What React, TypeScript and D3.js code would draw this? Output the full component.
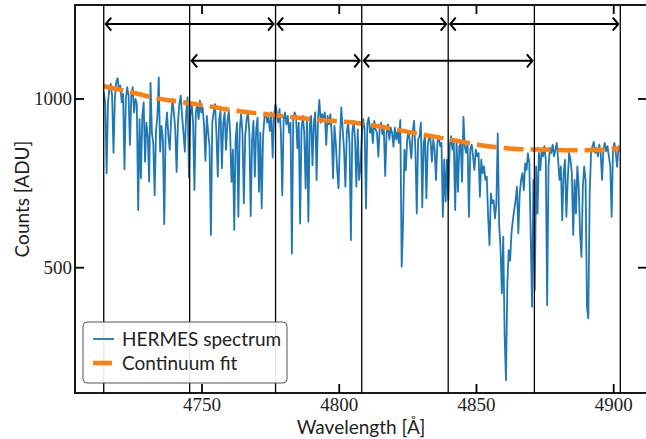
import React from "react";
import * as d3 from "d3";

const W = 646;
const H = 439;
const plot = { left: 75, right: 647, top: 5, bottom: 393 };

// Spectrum sampling grid (Å) and counts
const wavelengthStart = 4714.25;
const wavelengthStep = 0.5;
const counts = [
  1020, 985, 780, 990, 1030, 1045, 1010, 841, 1000, 1050,
  1062, 1025, 1040, 990, 1015, 792, 1000, 1035, 1010, 864,
  1010, 1035, 960, 1000, 985, 671, 940, 765, 950, 990,
  814, 930, 890, 755, 1048, 900, 870, 715, 905, 950,
  1064, 844, 920, 880, 629, 910, 960, 890, 849, 940,
  1000, 960, 910, 784, 930, 985, 1010, 950, 900, 844,
  960, 1005, 768, 950, 990, 930, 730, 960, 985, 940,
  995, 960, 975, 920, 817, 950, 900, 860, 597, 930,
  960, 985, 900, 770, 940, 965, 795, 930, 960, 849,
  930, 965, 900, 755, 850, 612, 880, 930, 651, 910,
  955, 900, 691, 890, 940, 960, 900, 653, 880, 935,
  770, 910, 945, 725, 900, 676, 890, 945, 960, 930,
  945, 905, 960, 827, 950, 985, 960, 930, 970, 900,
  715, 940, 960, 925, 950, 900, 930, 542, 940, 960,
  950, 854, 930, 631, 910, 950, 900, 735, 940, 636,
  920, 950, 804, 930, 960, 760, 940, 997, 930, 955,
  940, 960, 864, 950, 925, 955, 900, 765, 920, 870,
  789, 735, 880, 975, 910, 850, 740, 900, 930, 870,
  582, 900, 935, 880, 740, 910, 760, 800, 900, 940,
  910, 676, 930, 945, 900, 920, 869, 935, 910, 900,
  829, 915, 930, 895, 910, 772, 900, 925, 880, 915,
  900, 859, 915, 880, 905, 870, 938, 503, 626, 850,
  789, 880, 905, 870, 824, 900, 935, 850, 661, 880,
  890, 930, 679, 870, 890, 706, 860, 890, 880, 814,
  880, 850, 760, 870, 890, 860, 870, 651, 820, 696,
  820, 700, 860, 890, 850, 870, 671, 880, 725, 860,
  870, 755, 947, 860, 840, 870, 651, 850, 865, 830,
  789, 850, 830, 840, 710, 820, 780, 800, 760, 770,
  651, 567, 720, 691, 700, 646, 690, 898, 631, 560,
  424, 592, 300, 167, 453, 552, 520, 602, 640, 671,
  700, 740, 602, 720, 760, 780, 730, 809, 790, 839,
  810, 602, 384, 760, 434, 800, 661, 840, 789, 850,
  830, 860, 820, 389, 799, 855, 840, 865, 830, 850,
  870, 820, 760, 800, 641, 780, 820, 651, 760, 840,
  820, 780, 597, 760, 661, 800, 740, 602, 532, 740,
  800, 760, 384, 350, 720, 840, 860, 873, 840, 855,
  830, 865, 840, 760, 850, 870, 845, 860, 830, 800,
  651, 850, 870, 840, 799, 860, 845,
];

// Continuum fit
const fitWavelengths = [
  4714.2, 4724.2, 4734.2, 4744.2, 4754.2, 4764.2, 4774.2, 4784.2, 4794.2, 4804.2,
  4814.2, 4824.2, 4834.2, 4844.2, 4854.2, 4864.2, 4874.2, 4884.2, 4894.2, 4902.3,
];
const fitCounts = [
  1038, 1020, 1001, 989, 976, 963, 954, 945, 937, 931,
  919, 904, 889, 874, 860, 852, 850, 848, 849, 854,
];

// Segment boundaries (vertical lines) and arrows
const boundaries = [4714.2, 4745.5, 4776.8, 4808.2, 4839.7, 4871.1, 4902.4];
const arrowLevels = [1222, 1113];
const arrowRows = [
  [[0, 2], [2, 4], [4, 6]],
  [[1, 3], [3, 5]],
];

const xTicks = [4750, 4800, 4850, 4900];
const yTicks = [500, 1000];
const xDomain = [4703.73, 4912.13];
const yDomain = [128.6, 1278.6];
const legendLabels = ["HERMES spectrum", "Continuum fit"];
const xLabel = "Wavelength [Å]";
const yLabel = "Counts [ADU]";

const BLUE = "#1f77b4";
const ORANGE = "#ff7f0e";
const SERIF = "'Liberation Serif', 'DejaVu Serif', serif";
const SANS = "Lato, 'Open Sans', sans-serif";

export default function App() {
  const x = d3.scaleLinear().domain(xDomain).range([plot.left, plot.right]);
  const y = d3.scaleLinear().domain(yDomain).range([plot.bottom, plot.top]);

  const spec: [number, number][] = counts.map((c, i) => [wavelengthStart + i * wavelengthStep, c]);
  const fit: [number, number][] = fitCounts.map((c, i) => [fitWavelengths[i], c]);

  const specPath = d3.line<[number, number]>().x((d) => x(d[0])).y((d) => y(d[1]))(spec) || "";
  const fitPath =
    d3.line<[number, number]>().x((d) => x(d[0])).y((d) => y(d[1])).curve(d3.curveMonotoneX)(fit) || "";

  const tickLen = 9;
  const shrink = 2;
  const headL = 5.5;
  const headW = 6.5;

  const arrows: JSX.Element[] = [];
  arrowRows.forEach((row, r) => {
    const yy = y(arrowLevels[r]);
    row.forEach(([a, b], k) => {
      const x1 = x(boundaries[a]) + shrink;
      const x2 = x(boundaries[b]) - shrink;
      const d =
        `M${x1},${yy}L${x2},${yy}` +
        `M${x1 + headL},${yy - headW}L${x1},${yy}L${x1 + headL},${yy + headW}` +
        `M${x2 - headL},${yy - headW}L${x2},${yy}L${x2 - headL},${yy + headW}`;
      arrows.push(
        <path key={`a${r}-${k}`} d={d} fill="none" stroke="#000" strokeWidth={2} strokeLinejoin="miter" />
      );
    });
  });

  const lx = 83, ly = 322, lw = 204, lh = 61;

  return (
    <div style={{ position: "fixed", left: 0, top: 0, width: W, height: H, background: "#fff" }}>
      <svg width={W} height={H} viewBox={`0 0 ${W} ${H}`} style={{ display: "block" }}>
        <defs>
          <clipPath id="plotclip">
            <rect x={plot.left} y={plot.top} width={plot.right - plot.left} height={plot.bottom - plot.top} />
          </clipPath>
        </defs>
        <rect x={0} y={0} width={W} height={H} fill="#fff" />
        <g clipPath="url(#plotclip)">
          <path d={specPath} fill="none" stroke={BLUE} strokeWidth={1.8} strokeLinejoin="round" />
          <path
            d={fitPath}
            fill="none"
            stroke={ORANGE}
            strokeWidth={4.5}
            strokeDasharray="20 7"
            strokeLinecap="butt"
          />
          {boundaries.map((b, i) => (
            <line key={`v${i}`} x1={x(b)} x2={x(b)} y1={plot.top} y2={plot.bottom} stroke="#000" strokeWidth={1.3} />
          ))}
          {arrows}
        </g>
        {/* spines */}
        <rect
          x={plot.left}
          y={plot.top}
          width={plot.right - plot.left}
          height={plot.bottom - plot.top}
          fill="none"
          stroke="#000"
          strokeWidth={1.8}
        />
        {/* x ticks */}
        {xTicks.map((t) => (
          <g key={`xt${t}`}>
            <line x1={x(t)} x2={x(t)} y1={plot.bottom} y2={plot.bottom - tickLen} stroke="#000" strokeWidth={1.8} />
            <line x1={x(t)} x2={x(t)} y1={plot.top} y2={plot.top + tickLen} stroke="#000" strokeWidth={1.8} />
            <text x={x(t)} y={411} textAnchor="middle" fontFamily={SERIF} fontSize={19} fill="#222">
              {t}
            </text>
          </g>
        ))}
        {/* y ticks */}
        {yTicks.map((t) => (
          <g key={`yt${t}`}>
            <line x1={plot.left} x2={plot.left + tickLen} y1={y(t)} y2={y(t)} stroke="#000" strokeWidth={1.8} />
            <line x1={plot.right} x2={plot.right - tickLen} y1={y(t)} y2={y(t)} stroke="#000" strokeWidth={1.8} />
            <text x={72} y={y(t) + 6.5} textAnchor="end" fontFamily={SERIF} fontSize={19} fill="#222">
              {t}
            </text>
          </g>
        ))}
        {/* axis labels */}
        <text x={(plot.left + plot.right) / 2} y={434} textAnchor="middle" fontFamily={SANS} fontSize={19} fill="#222">
          {xLabel}
        </text>
        <text
          transform={`translate(29,${(plot.top + plot.bottom) / 2}) rotate(-90)`}
          textAnchor="middle"
          fontFamily={SANS}
          fontSize={19}
          fill="#222"
        >
          {yLabel}
        </text>
        {/* legend */}
        <rect x={lx} y={ly} width={lw} height={lh} rx={4} ry={4} fill="#fff" fillOpacity={0.9} stroke="#555" strokeWidth={1} />
        <line x1={lx + 10} x2={lx + 31} y1={ly + 17} y2={ly + 17} stroke={BLUE} strokeWidth={1.8} />
        <line x1={lx + 10} x2={lx + 29} y1={ly + 41} y2={ly + 41} stroke={ORANGE} strokeWidth={4.5} />
        {legendLabels.map((l, i) => (
          <text key={l} x={lx + 39} y={ly + 17 + i * 24 + 6.5} fontFamily={SANS} fontSize={19} fill="#222">
            {l}
          </text>
        ))}
      </svg>
    </div>
  );
}
